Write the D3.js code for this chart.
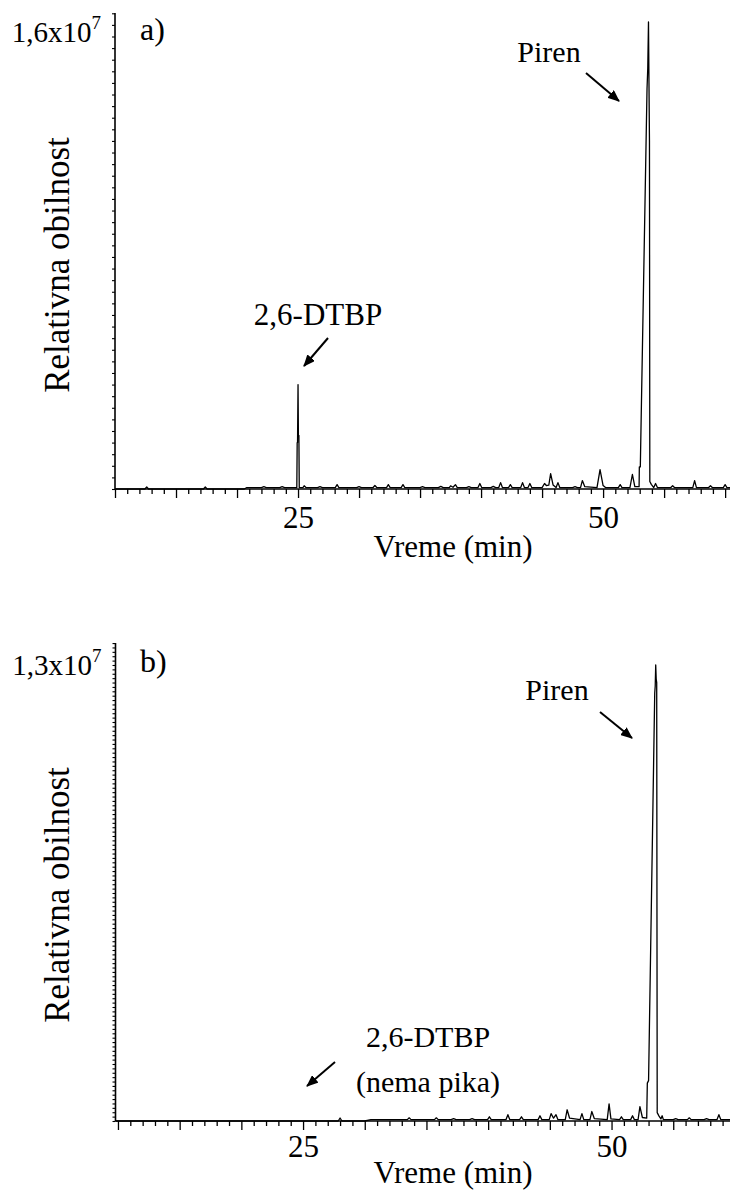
<!DOCTYPE html>
<html><head><meta charset="utf-8">
<script src="https://cdn.jsdelivr.net/npm/d3@7"></script>
<style>
html,body{margin:0;padding:0;background:#fff;}
svg{display:block;}
</style></head>
<body>
<svg id="chart" width="730" height="1190"></svg>
<script>
// ---- data ----
const xTickLabels = [25, 50];
const panelLetters = ["a)", "b)"];
const yMaxLabels = [["1,6x10", "7"], ["1,3x10", "7"]];
const yMaxValues = [1.6e7, 1.3e7];
const xTitle = "Vreme (min)";
const yTitle = "Relativna obilnost";

// chromatogram a) : [time (min), abundance]
const traceA = [
[10,0],[12.45,0],[12.6,7e4],[12.75,0],[17.25,0],[17.4,7e4],[17.55,0],
[20.6,0],[20.8,5e4],[22.0,5e4],[22.2,8e4],[22.4,5e4],[23.5,5e4],[23.7,8e4],[23.9,5e4],[24.9,5e4],
[24.93,1.6e6],[24.96,1.6e6],[25.0,3.6e6],[25.03,1.85e6],[25.07,1.85e6],[25.1,5e4],
[25.4,5e4],[25.5,1.1e5],[25.65,5e4],[26.6,5e4],[26.8,8e4],[27.0,5e4],[28.05,5e4],[28.2,1.5e5],[28.35,5e4],
[29.8,5e4],[30.0,8e4],[30.2,5e4],[31.15,5e4],[31.3,1.2e5],[31.45,5e4],[32.25,5e4],[32.4,1.5e5],[32.55,5e4],
[33.45,5e4],[33.6,1.5e5],[33.75,5e4],[35.0,5e4],[35.2,8e4],[35.4,5e4],[36.5,5e4],[36.7,9e4],[36.9,5e4],
[37.4,5e4],[37.5,1.1e5],[37.7,6e4],[37.9,1.5e5],[38.05,5e4],[38.8,5e4],[39.0,8e4],[39.2,5e4],
[39.75,5e4],[39.9,1.9e5],[40.05,5e4],[40.8,5e4],[41.0,9e4],[41.2,5e4],[41.45,5e4],[41.6,2.2e5],[41.75,5e4],
[42.25,5e4],[42.4,1.5e5],[42.55,5e4],[43.25,5e4],[43.4,2.2e5],[43.55,5e4],[43.85,5e4],[44.0,1.9e5],[44.15,5e4],
[45.0,5e4],[45.2,1.9e5],[45.35,1.2e5],[45.55,1.3e5],[45.7,5.3e5],[45.9,1.4e5],[46.15,5e4],[46.3,2.2e5],[46.45,5e4],
[47.5,5e4],[47.7,8e4],[47.9,5e4],[48.15,5e4],[48.3,2.9e5],[48.5,8e4],[49.5,5e4],[49.75,6.7e5],[50.0,1.2e5],[50.2,5e4],
[51.25,5e4],[51.4,1.5e5],[51.55,5e4],[52.2,5e4],[52.4,5e5],[52.6,8e4],[52.95,8e4],
[52.97,7.6e5],[53.05,7.6e5],[53.6,1.38e7],[53.66,1.45e7],[53.72,1.61e7],[53.76,1.4e7],[53.8,1.2e7],[53.83,2.6e5],[53.95,1.6e5],[54.15,5e4],
[54.3,1.9e5],[54.45,5e4],[55.55,5e4],[55.7,1.1e5],[55.85,5e4],[57.35,5e4],[57.5,2.9e5],[57.65,5e4],
[58.65,5e4],[58.8,1.1e5],[58.95,5e4],[59.85,5e4],[60.0,1.5e5],[60.15,5e4],[60.4,5e4]
];

// chromatogram b)
const traceB = [
[9.8,0],[27.85,0],[28.0,8.5e4],[28.15,0],[30.0,0],[30.5,4e4],[33.45,4e4],[33.6,9e4],[33.75,4e4],
[35.65,4e4],[35.8,9e4],[35.95,4e4],[37.0,4e4],[37.2,7e4],[37.4,4e4],[38.5,4e4],[38.7,7e4],[38.9,4e4],
[39.95,4e4],[40.1,1.2e5],[40.25,4e4],[41.45,4e4],[41.6,1.8e5],[41.75,4e4],[42.55,4e4],[42.7,1.2e5],[42.85,4e4],
[44.05,4e4],[44.2,1.5e5],[44.35,4e4],[44.95,4e4],[45.1,2.1e5],[45.3,8e4],[45.5,1.8e5],[45.65,4e4],
[46.25,4e4],[46.4,3.2e5],[46.6,8e4],[47.45,4e4],[47.6,2.1e5],[47.75,4e4],[48.25,4e4],[48.4,2.7e5],[48.6,7e4],
[49.65,4e4],[49.8,4.9e5],[49.95,6e4],[50.65,4e4],[50.8,1.2e5],[50.95,4e4],[51.55,4e4],[51.7,1.5e5],[51.85,4e4],
[52.15,4e4],[52.3,4.1e5],[52.5,1e5],[52.85,8e4],
[52.9,1.08e6],[53.0,1.15e6],[53.5,1.22e7],[53.54,1.24e7],[53.58,1.3e7],[53.62,1.26e7],[53.66,1.25e7],[53.7,2.4e5],[53.85,1.4e5],[54.0,6e4],
[54.1,1.5e5],[54.2,4e4],[55.0,4e4],[55.2,7e4],[55.4,4e4],[56.15,4e4],[56.3,9e4],[56.45,4e4],
[57.5,4e4],[57.7,7e4],[57.9,4e4],[58.55,4e4],[58.7,1.8e5],[58.85,4e4],[59.6,4e4]
];

// annotations: text lines
const annotA = [{lines:["Piren"]},{lines:["2,6-DTBP"]}];
const annotB = [{lines:["Piren"]},{lines:["2,6-DTBP","(nema pika)"]}];

// ---- layout ----
const FONT = '"Liberation Serif"';
const svg = d3.select("#chart");
const defs = svg.append("defs");
defs.append("marker").attr("id","ah").attr("viewBox","0 0 12 10")
  .attr("refX",11).attr("refY",5).attr("markerWidth",12).attr("markerHeight",10)
  .attr("markerUnits","userSpaceOnUse").attr("orient","auto")
  .append("path").attr("d","M0,0 L12,5 L0,10 Z").attr("fill","#000");

function txt(sel, size) {
  return sel.style("font-family", FONT).style("font-size", size + "px").attr("fill", "#000");
}

const panels = [
  {trace: traceA, xDom:[10,60.4], xRange:[115,730], yTop:13, yBase:489, yDomTop:1.641e7, yTickStep:4e5,
   labelDy:17, letterPos:[140,40], xLabelY:528, xTitleY:557, yTitleY:265,
   annot: annotA,
   annotPos:[{x:549,y:62,size:30,arrow:[586,73,619,101]},{x:318,y:325,size:31,arrow:[328,338,304,366]}]},
  {trace: traceB, xDom:[9.8,59.6], xRange:[115.5,730], yTop:643, yBase:1121, yDomTop:1.3627e7, yTickStep:1.25e5,
   labelDy:10, letterPos:[140,672], xLabelY:1157, xTitleY:1183, yTitleY:895,
   annot: annotB,
   annotPos:[{x:557,y:700,size:30,arrow:[600,712,632,738]},{x:428,y:1047,size:30,arrow:[335,1062,307,1086]}]}
];

panels.forEach((p, pi) => {
  const g = svg.append("g");
  const x = d3.scaleLinear().domain(p.xDom).range(p.xRange);
  const y = d3.scaleLinear().domain([0, p.yDomTop]).range([p.yBase, p.yTop]);

  // x axis: minor ticks every 1 min, long every 5 min
  const xMinor = d3.range(Math.ceil(p.xDom[0]), Math.floor(p.xDom[1]) + 1, 1);
  const xAxisMinor = d3.axisBottom(x).tickValues(xMinor.filter(v => v % 5 !== 0)).tickSize(5).tickFormat("");
  const xAxisMajor = d3.axisBottom(x).tickValues(xMinor.filter(v => v % 5 === 0)).tickSize(9)
      .tickFormat(d => xTickLabels.includes(d) ? d : "");
  const gx1 = g.append("g").attr("transform",`translate(0,${p.yBase})`).call(xAxisMinor);
  const gx2 = g.append("g").attr("transform",`translate(0,${p.yBase})`).call(xAxisMajor);
  [gx1,gx2].forEach(a => {
    a.select(".domain").attr("stroke","#000").attr("stroke-width",1.6);
    a.selectAll(".tick line").attr("stroke","#000").attr("stroke-width",1.3);
  });
  txt(gx2.selectAll(".tick text").attr("y", p.xLabelY - p.yBase).attr("dy", null), 31);
  gx1.select(".domain").attr("d", `M${p.xRange[0]},0H${p.xRange[1]}`);
  gx2.select(".domain").remove();

  // y axis
  const yTicks = d3.range(0, p.yDomTop, p.yTickStep);
  const yAxis = d3.axisLeft(y).tickValues(yTicks).tickSize(3).tickFormat("");
  const gy = g.append("g").attr("transform",`translate(${p.xRange[0]},0)`).call(yAxis);
  gy.select(".domain").attr("stroke","#000").attr("stroke-width",1.6).attr("d",`M0,${p.yBase}V${p.yTop}`);
  gy.selectAll(".tick line").attr("stroke","#000").attr("stroke-width",1.1);

  // y max label
  const lbl = txt(g.append("text").attr("x", p.xRange[0] - 14).attr("y", y(yMaxValues[pi]) + p.labelDy)
     .attr("text-anchor","end"), 29);
  lbl.append("tspan").text(yMaxLabels[pi][0]);
  lbl.append("tspan").attr("dy",-13).style("font-size","19px").text(yMaxLabels[pi][1]);

  // panel letter
  txt(g.append("text").attr("x",p.letterPos[0]).attr("y",p.letterPos[1]), 32).text(panelLetters[pi]);

  // trace
  const line = d3.line().x(d => x(d[0])).y(d => y(d[1]));
  g.append("path").datum(p.trace).attr("d", line).attr("fill","none")
    .attr("stroke","#000").attr("stroke-width",1.3).attr("stroke-linejoin","round");

  // titles
  txt(g.append("text").attr("x", 453).attr("y", p.xTitleY).attr("text-anchor","middle"), 31).text(xTitle);
  txt(g.append("text").attr("transform",`translate(69,${p.yTitleY}) rotate(-90)`).attr("text-anchor","middle"), 35).text(yTitle);

  // annotations
  p.annot.forEach((a, ai) => {
    const pos = p.annotPos[ai];
    a.lines.forEach((ln, li) => {
      txt(g.append("text").attr("x", pos.x).attr("y", pos.y + li*45).attr("text-anchor","middle"), pos.size).text(ln);
    });
    const ar = pos.arrow;
    g.append("line").attr("x1",ar[0]).attr("y1",ar[1]).attr("x2",ar[2]).attr("y2",ar[3])
      .attr("stroke","#000").attr("stroke-width",2).attr("marker-end","url(#ah)");
  });
});
</script>
</body></html>
